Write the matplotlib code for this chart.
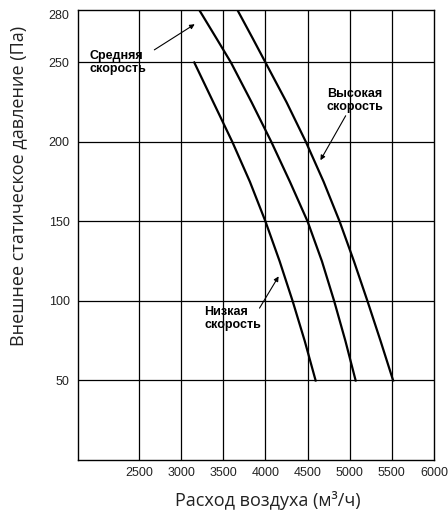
import matplotlib
matplotlib.use("Agg")
import matplotlib.pyplot as plt

# fan curves: air flow (m3/h) vs external static pressure (Pa)
low_p = [250, 225, 200, 175, 150, 125, 100, 75, 50]
low_q = [3155, 3381, 3607, 3815, 4000, 4168, 4322, 4465, 4595]
mid_p = [283, 265, 250, 225, 200, 175, 150, 125, 100, 75, 50]
mid_q = [3214, 3420, 3590, 3835, 4070, 4290, 4500, 4670, 4815, 4948, 5070]
high_p = [283, 265, 250, 225, 200, 175, 150, 125, 100, 75, 50]
high_q = [3667, 3850, 4000, 4250, 4480, 4690, 4880, 5050, 5210, 5365, 5515]

x_ticks = [2500, 3000, 3500, 4000, 4500, 5000, 5500, 6000]
y_grid = [50, 100, 150, 200, 250]
y_ticks = [50, 100, 150, 200, 250, 280]

fig = plt.figure(figsize=(4.48, 5.2), dpi=100)
ax = fig.add_axes([78 / 448, 1 - 460 / 520, 356 / 448, 450 / 520])
ax.set_xlim(1775, 6000)
ax.set_ylim(0, 283)

for x in x_ticks[:-1]:
    ax.axvline(x, color="black", lw=0.9, zorder=1)
for y in y_grid:
    ax.axhline(y, color="black", lw=0.9, zorder=1)

for q, p in [(low_q, low_p), (mid_q, mid_p), (high_q, high_p)]:
    ax.plot(q, p, color="black", lw=1.6, zorder=3, solid_joinstyle="round")

ax.set_xticks(x_ticks)
ax.set_yticks(y_ticks)
ax.tick_params(length=0, labelsize=9, colors="#222222")
ax.tick_params(axis="y", pad=6)
ax.tick_params(axis="x", pad=5)
for lbl in ax.get_xticklabels() + ax.get_yticklabels():
    lbl.set_family("Liberation Sans")
for s in ax.spines.values():
    s.set_linewidth(1.0)

bold = dict(fontsize=9, fontweight="bold", family="Liberation Sans", linespacing=1.1)
arrow = dict(arrowstyle="-|>", color="black", lw=0.8, mutation_scale=7)

ax.text(1917, 250, "Средняя\nскорость", ha="left", va="center", **bold)
ax.annotate("", xy=(3188, 275), xytext=(2653, 257), arrowprops=arrow)

ax.text(5063, 226, "Высокая\nскорость", ha="center", va="center", **bold)
ax.annotate("", xy=(4636, 187), xytext=(4968, 218), arrowprops=arrow)

ax.text(3271, 89, "Низкая\nскорость", ha="left", va="center", **bold)
ax.annotate("", xy=(4173, 117), xytext=(3912, 94), arrowprops=arrow)

fig.text(268 / 448, 1 - 500 / 520, "Расход воздуха (м³/ч)", ha="center", va="center",
         fontsize=13, family="Open Sans", color="#222222")
fig.text(18 / 448, 1 - 186 / 520, "Внешнее статическое давление (Па)", ha="center", va="center",
         rotation=90, fontsize=13, family="Open Sans", color="#222222")

fig.savefig("out.png", dpi=100)
